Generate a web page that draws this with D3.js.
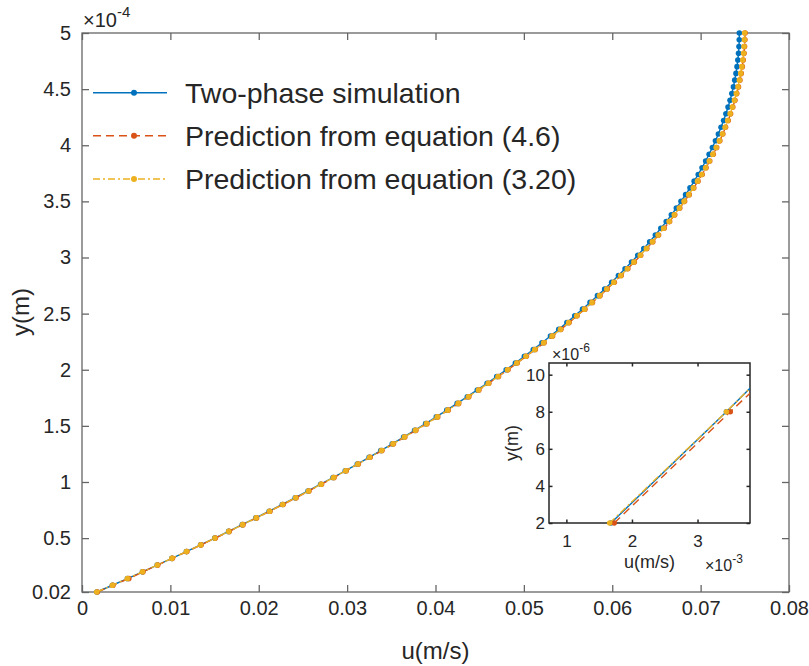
<!DOCTYPE html>
<html>
<head>
<meta charset="utf-8">
<title>Velocity profile</title>
<script src="https://cdn.jsdelivr.net/npm/d3@7"></script>
<style>
  body { margin: 0; background: #fff; }
  text { font-family: "Liberation Sans", Arial, Helvetica, sans-serif; fill: #262626; }
</style>
</head>
<body>
<svg width="809" height="666"></svg>
<script>
// height above the wall, in micrometres
var yUm = [2, 8, 14, 20, 26, 32, 38, 44, 50, 56,
  62, 68, 74, 80, 86, 92, 98, 104, 110, 116,
  122, 128, 134, 140, 146, 152, 158, 164, 170, 176,
  182, 188, 194, 200, 206, 212, 218, 224, 230, 236,
  242, 248, 254, 260, 266, 272, 278, 284, 290, 296,
  302, 308, 314, 320, 326, 332, 338, 344, 350, 356,
  362, 368, 374, 380, 386, 392, 398, 404, 410, 416,
  422, 428, 434, 440, 446, 452, 458, 464, 470, 476,
  482, 488, 494, 500];

// u (m/s) for each series
var uSim = [0.00168, 0.00344, 0.00514, 0.00684, 0.00851, 0.01017, 0.01181, 0.01342, 0.01502, 0.01659,
  0.01814, 0.01967, 0.02118, 0.02267, 0.02413, 0.02558, 0.02700, 0.02841, 0.02979, 0.03115,
  0.03249, 0.03381, 0.03511, 0.03639, 0.03764, 0.03888, 0.04009, 0.04128, 0.04245, 0.04360,
  0.04473, 0.04584, 0.04693, 0.04800, 0.04904, 0.05006, 0.05107, 0.05205, 0.05301, 0.05395,
  0.05487, 0.05576, 0.05664, 0.05749, 0.05833, 0.05914, 0.05993, 0.06070, 0.06145, 0.06218,
  0.06289, 0.06357, 0.06424, 0.06488, 0.06550, 0.06611, 0.06669, 0.06725, 0.06778, 0.06830,
  0.06880, 0.06927, 0.06973, 0.07016, 0.07057, 0.07096, 0.07133, 0.07168, 0.07201, 0.07231,
  0.07260, 0.07286, 0.07310, 0.07333, 0.07353, 0.07371, 0.07386, 0.07400, 0.07412, 0.07421,
  0.07429, 0.07434, 0.07437, 0.07438];

var uEq46 = [0.00173, 0.00350, 0.00530, 0.00690, 0.00857, 0.01023, 0.01187, 0.01349, 0.01509, 0.01666,
  0.01822, 0.01975, 0.02127, 0.02276, 0.02423, 0.02568, 0.02710, 0.02852, 0.02990, 0.03127,
  0.03261, 0.03394, 0.03524, 0.03653, 0.03778, 0.03903, 0.04025, 0.04144, 0.04262, 0.04377,
  0.04491, 0.04603, 0.04713, 0.04820, 0.04925, 0.05028, 0.05129, 0.05228, 0.05325, 0.05419,
  0.05512, 0.05602, 0.05691, 0.05776, 0.05861, 0.05943, 0.06023, 0.06101, 0.06176, 0.06250,
  0.06322, 0.06391, 0.06459, 0.06524, 0.06587, 0.06649, 0.06707, 0.06764, 0.06818, 0.06871,
  0.06922, 0.06970, 0.07017, 0.07061, 0.07103, 0.07143, 0.07181, 0.07217, 0.07251, 0.07282,
  0.07312, 0.07339, 0.07364, 0.07388, 0.07409, 0.07428, 0.07444, 0.07459, 0.07472, 0.07482,
  0.07491, 0.07497, 0.07501, 0.07503];

var uEq320 = [0.00166, 0.00344, 0.00514, 0.00685, 0.00852, 0.01018, 0.01182, 0.01344, 0.01504, 0.01661,
  0.01817, 0.01970, 0.02122, 0.02271, 0.02418, 0.02563, 0.02705, 0.02847, 0.02985, 0.03122,
  0.03256, 0.03389, 0.03519, 0.03648, 0.03773, 0.03898, 0.04020, 0.04139, 0.04257, 0.04372,
  0.04486, 0.04598, 0.04708, 0.04815, 0.04920, 0.05023, 0.05124, 0.05223, 0.05320, 0.05414,
  0.05507, 0.05597, 0.05686, 0.05771, 0.05856, 0.05938, 0.06018, 0.06096, 0.06171, 0.06245,
  0.06317, 0.06386, 0.06454, 0.06519, 0.06582, 0.06644, 0.06702, 0.06759, 0.06813, 0.06866,
  0.06917, 0.06965, 0.07012, 0.07056, 0.07098, 0.07138, 0.07176, 0.07212, 0.07246, 0.07277,
  0.07307, 0.07334, 0.07359, 0.07383, 0.07404, 0.07423, 0.07439, 0.07454, 0.07467, 0.07477,
  0.07486, 0.07492, 0.07496, 0.07498];

var seriesNames = ["Two-phase simulation", "Prediction from equation (4.6)", "Prediction from equation (3.20)"];

var xTicks = [0, 0.01, 0.02, 0.03, 0.04, 0.05, 0.06, 0.07, 0.08];
var xTickLabels = ["0", "0.01", "0.02", "0.03", "0.04", "0.05", "0.06", "0.07", "0.08"];
var yTicks = [2, 50, 100, 150, 200, 250, 300, 350, 400, 450, 500];
var yTickLabels = ["0.02", "0.5", "1", "1.5", "2", "2.5", "3", "3.5", "4", "4.5", "5"];

var insetXTicks = [0.001, 0.002, 0.003];
var insetXTickLabels = ["1", "2", "3"];
var insetYTicks = [2, 4, 6, 8, 10];
var insetYTickLabels = ["2", "4", "6", "8", "10"];

var svg = d3.select('svg');

var styles = [
  { u: uSim, color: '#0072BD', dash: null },
  { u: uEq46, color: '#D95319', dash: '8,5' },
  { u: uEq320, color: '#EDB120', dash: '7,3,2,3' }
];

// main axes
var x = d3.scaleLinear().domain([0, 0.08]).range([82, 789]);
var y = d3.scaleLinear().domain([2, 500]).range([592, 33]);

function frame(g, xs, ys, xt, xl, yt, yl, o) {
  var x0 = xs.range()[0], x1 = xs.range()[1], y0 = ys.range()[0], y1 = ys.range()[1];
  var bottom = g.append('g').attr('transform', `translate(0,${y0})`)
    .call(d3.axisBottom(xs).tickValues(xt).tickSizeInner(-o.len).tickSizeOuter(0)
      .tickFormat((d, i) => xl[i]));
  bottom.selectAll('text').attr('y', o.xLabelY).attr('dy', null);
  g.append('g').attr('transform', `translate(${x0},0)`)
    .call(d3.axisLeft(ys).tickValues(yt).tickSizeInner(-o.len).tickSizeOuter(0)
      .tickPadding(o.yPad).tickFormat((d, i) => yl[i]));
  g.append('g').attr('transform', `translate(0,${y1})`)
    .call(d3.axisTop(xs).tickValues(xt).tickSizeInner(-o.len).tickSizeOuter(0).tickFormat(''));
  g.append('g').attr('transform', `translate(${x1},0)`)
    .call(d3.axisRight(ys).tickValues(yt).tickSizeInner(-o.len).tickSizeOuter(0).tickFormat(''));
  g.selectAll('.domain').remove();
  g.selectAll('.tick line').attr('stroke', o.stroke).attr('stroke-width', o.width);
  g.selectAll('g').attr('font-size', o.font).attr('font-family', null);
  g.selectAll('.tick text').attr('fill', '#262626');
  g.append('rect').attr('x', x0).attr('y', y1).attr('width', x1 - x0).attr('height', y0 - y1)
    .attr('fill', 'none').attr('stroke', o.stroke).attr('stroke-width', o.width);
}

var main = svg.append('g');
frame(main, x, y, xTicks, xTickLabels, yTicks, yTickLabels,
  { len: 7, xLabelY: 23, yPad: 11, stroke: '#666', width: 1.3, font: 20 });

main.append('text').attr('x', 83).attr('y', 27).attr('font-size', 20)
  .text('×10').append('tspan').attr('dy', -10).attr('font-size', 15).text('-4');

main.append('text').attr('x', 435.5).attr('y', 659).attr('text-anchor', 'middle')
  .attr('font-size', 24).text('u(m/s)');
main.append('text').attr('transform', 'translate(29,312) rotate(-90)')
  .attr('text-anchor', 'middle').attr('font-size', 24).text('y(m)');

function drawSeries(g, xs, ys, filterPts, clipId, r) {
  styles.forEach(function (s) {
    var pts = yUm.map((v, i) => [s.u[i], v]);
    var line = d3.line().x(d => xs(d[0])).y(d => ys(d[1]));
    var path = g.append('path').datum(pts)
      .attr('d', line).attr('fill', 'none')
      .attr('stroke', s.color).attr('stroke-width', 1.4)
      .attr('stroke-dasharray', s.dash);
    if (clipId) path.attr('clip-path', `url(#${clipId})`);
    g.append('g').selectAll('circle')
      .data(pts.filter(filterPts))
      .enter().append('circle')
      .attr('cx', d => xs(d[0])).attr('cy', d => ys(d[1]))
      .attr('r', r).attr('fill', s.color);
  });
}

drawSeries(main, x, y, () => true, null, 2.8);

// legend
var legendY = [92.7, 135.7, 179];
var legend = svg.append('g');
styles.forEach(function (s, i) {
  legend.append('line').attr('x1', 93).attr('x2', 167)
    .attr('y1', legendY[i]).attr('y2', legendY[i])
    .attr('stroke', s.color).attr('stroke-width', 1.5).attr('stroke-dasharray', s.dash);
  legend.append('circle').attr('cx', 134).attr('cy', legendY[i]).attr('r', 3).attr('fill', s.color);
  legend.append('text').attr('x', 185).attr('y', legendY[i]).attr('dy', '0.35em')
    .attr('font-size', 28.5).text(seriesNames[i]);
});

// inset
var ix = d3.scaleLinear().domain([0.000735, 0.0038]).range([549, 750]);
var iy = d3.scaleLinear().domain([2, 10.63]).range([523, 363]);
var inset = svg.append('g');
inset.append('rect').attr('x', 549).attr('y', 363).attr('width', 201).attr('height', 160).attr('fill', '#fff');
svg.append('defs').append('clipPath').attr('id', 'insetClip')
  .append('rect').attr('x', 549).attr('y', 363).attr('width', 201).attr('height', 160);
frame(inset, ix, iy, insetXTicks, insetXTickLabels, insetYTicks, insetYTickLabels,
  { len: 3.5, xLabelY: 24, yPad: 4, stroke: '#262626', width: 1.5, font: 17 });
drawSeries(inset, ix, iy, d => d[1] <= 10.63 && d[0] <= 0.0038, 'insetClip', 2.7);

inset.append('text').attr('x', 552).attr('y', 360).attr('font-size', 16)
  .text('×10').append('tspan').attr('dy', -8).attr('font-size', 12).text('-6');
inset.append('text').attr('x', 705).attr('y', 571).attr('font-size', 16)
  .text('×10').append('tspan').attr('dy', -8).attr('font-size', 12).text('-3');
inset.append('text').attr('x', 649.5).attr('y', 568).attr('text-anchor', 'middle')
  .attr('font-size', 18).text('u(m/s)');
inset.append('text').attr('transform', 'translate(518,443) rotate(-90)')
  .attr('text-anchor', 'middle').attr('font-size', 18).text('y(m)');
</script>
</body>
</html>
